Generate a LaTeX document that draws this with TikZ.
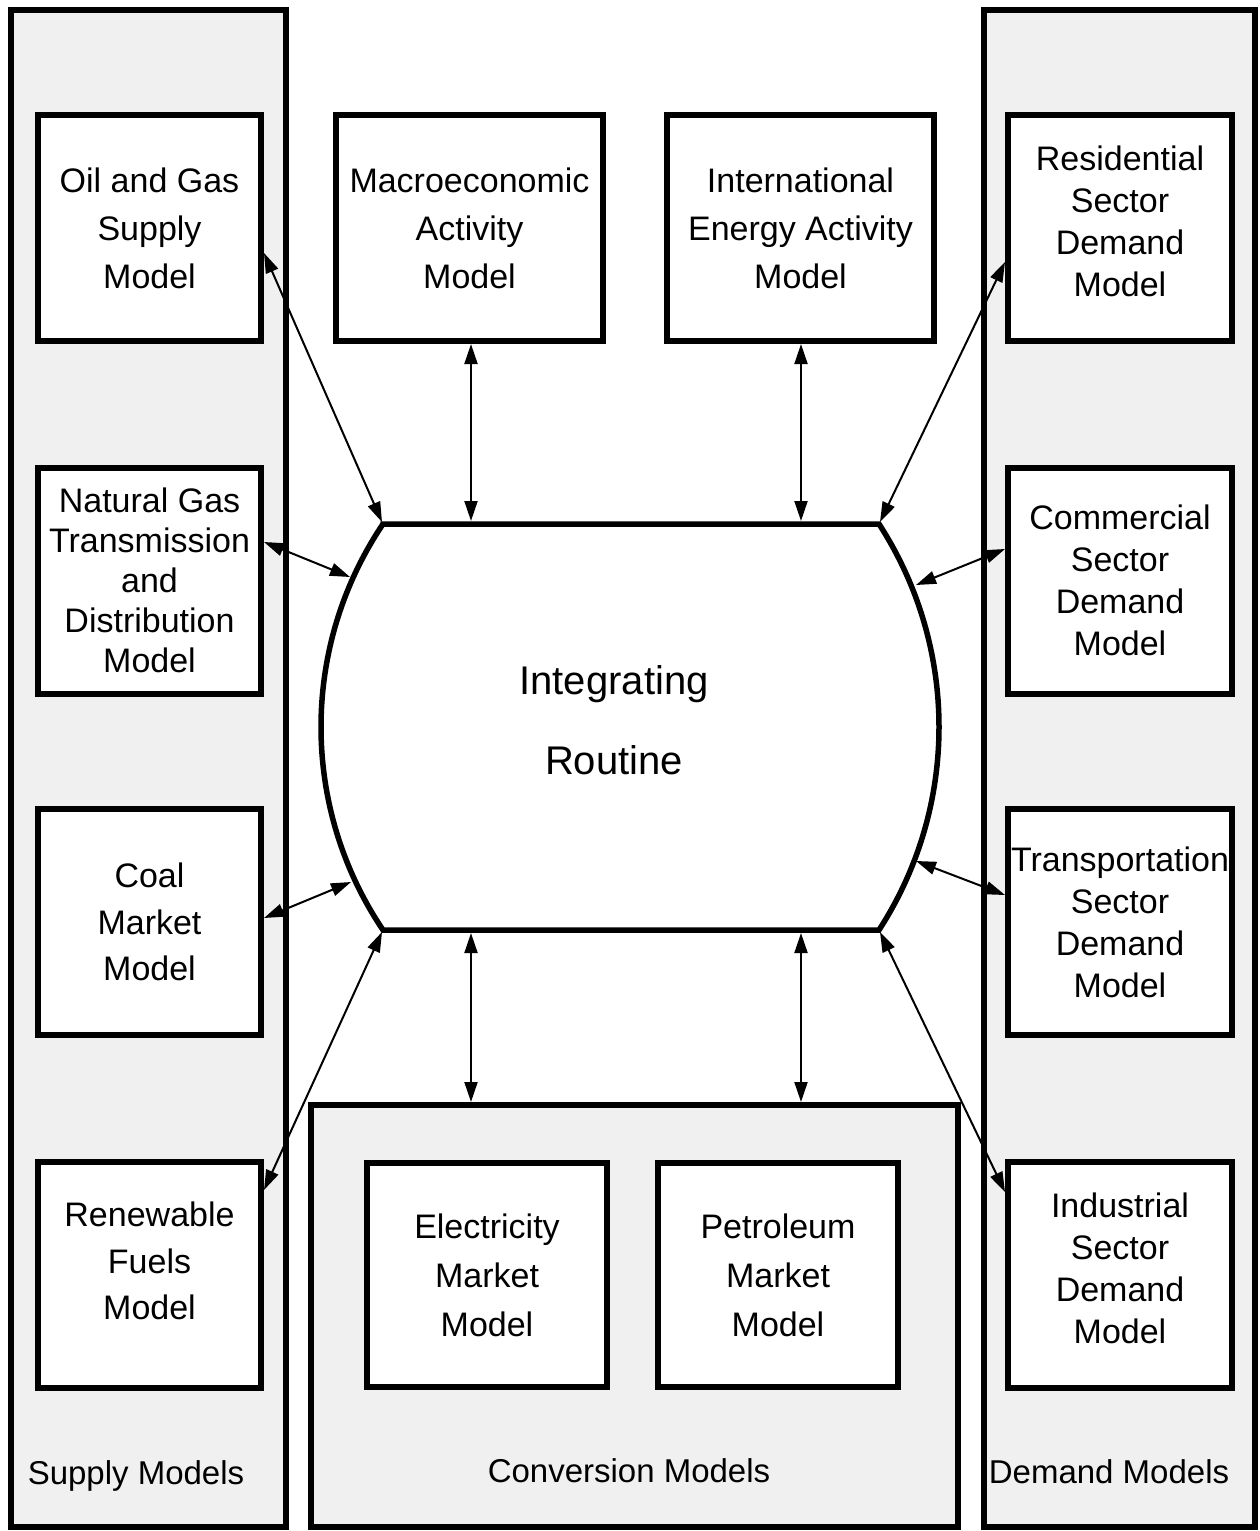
\documentclass[tikz,border=0pt]{standalone}
\usepackage{fontspec}
\setmainfont{Liberation Sans}
\usetikzlibrary{arrows.meta,calc}
\definecolor{panelgray}{HTML}{F0F0F0}
\begin{document}
\begin{tikzpicture}[x=1pt,y=1pt,
  panel/.style={draw, line width=6pt, fill=panelgray, inner sep=0pt, outer sep=3pt},
  mbox/.style={draw, line width=6pt, fill=white, inner sep=0pt, outer sep=3pt, align=center},
  lcol/.style={minimum width=223pt, minimum height=226pt},
  rcol/.style={minimum width=224pt, minimum height=226pt},
  tcol/.style={minimum width=267pt, minimum height=226pt},
  ccol/.style={minimum width=240pt, minimum height=224pt},
  three/.style={font=\fontsize{34}{48}\selectfont},
  four/.style={font=\fontsize{34}{42}\selectfont},
  five/.style={font=\fontsize{34}{40}\selectfont},
  lbl/.style={font=\fontsize{33}{40}\selectfont},
  big/.style={font=\fontsize{40}{80}\selectfont, align=center},
  link/.style={line width=2pt, {Triangle[length=20pt,width=13pt]}-{Triangle[length=20pt,width=13pt]}},
  routine/.style={line width=5.5pt, fill=white}]
\useasboundingbox (0,0) rectangle (1260,-1531);

% panels
\node[panel, minimum width=275pt, minimum height=1517pt] (supplyP) at (148.5,-768.5) {};
\node[panel, minimum width=271.5pt, minimum height=1517pt] (demandP) at (1119.25,-768.5) {};
\node[panel, minimum width=647pt, minimum height=422pt] (convP) at (634.5,-1316) {};

\node[lbl] (supplyL) at (136,-1476) {Supply Models};
\node[lbl] (convL) at (629,-1471) {Conversion Models};
\node[lbl] (demandL) at (1109,-1472) {Demand Models};

% left column
\node[mbox, lcol, three] (oil) at (149.5,-228) {Oil and Gas\\Supply\\Model};
\node[mbox, lcol, five] (natgas) at (149.5,-580.5) {Natural Gas\\Transmission\\and\\Distribution\\Model};
\node[mbox, lcol, font=\fontsize{34}{46.5}\selectfont] (coal) at (149.5,-922) {Coal\\Market\\Model};
\node[mbox, lcol, font=\fontsize{34}{46.5}\selectfont, text depth=28pt] (renew) at (149.5,-1275) {Renewable\\Fuels\\Model};

% top middle
\node[mbox, tcol, three] (macro) at (469.5,-228) {Macroeconomic\\Activity\\Model};
\node[mbox, tcol, three] (intl) at (800.5,-228) {International\\Energy Activity\\Model};

% right column
\node[mbox, rcol, four, text depth=14pt] (resid) at (1120,-228) {Residential\\Sector\\Demand\\Model};
\node[mbox, rcol, four] (comm) at (1120,-580.5) {Commercial\\Sector\\Demand\\Model};
\node[mbox, rcol, four] (trans) at (1120,-922) {Transportation\\Sector\\Demand\\Model};
\node[mbox, rcol, four, text depth=14pt] (indus) at (1120,-1275) {Industrial\\Sector\\Demand\\Model};

% conversion
\node[mbox, ccol, font=\fontsize{34}{49}\selectfont] (elec) at (487,-1275) {Electricity\\Market\\Model};
\node[mbox, ccol, font=\fontsize{34}{49}\selectfont] (petro) at (778,-1275) {Petroleum\\Market\\Model};

% integrating routine
\draw[routine] (383,-524) -- ++(496,0)
  arc[start angle=32.933, end angle=-32.933, radius=373.4pt]
  -- ++(-496,0)
  arc[start angle=213.97, end angle=146.03, radius=363.3pt] -- cycle;
\node[big] (ir) at (614,-720) {Integrating\\Routine};

% connection points on the routine
\coordinate (irTL) at (382,-522);
\coordinate (irTR) at (880,-522);
\coordinate (irBL) at (382,-932);
\coordinate (irBR) at (880,-932);
\coordinate (irT1) at (471,-521);
\coordinate (irT2) at (801,-521);
\coordinate (irB1) at (471,-933);
\coordinate (irB2) at (801,-933);
\coordinate (irL1) at (350,-577);
\coordinate (irL2) at (351,-882);
\coordinate (irR1) at (916,-585);
\coordinate (irR2) at (916,-861);

% connectors
\draw[link] ([yshift=-25pt]oil.east) -- (irTL);
\draw[link] (irT1 |- macro.south) -- (irT1);
\draw[link] (irT2 |- intl.south) -- (irT2);
\draw[link] ([yshift=-34pt]resid.west) -- (irTR);
\draw[link] ([yshift=38.5pt]natgas.east) -- (irL1);
\draw[link] ([yshift=31.5pt]comm.west) -- (irR1);
\draw[link] ([yshift=4pt]coal.east) -- (irL2);
\draw[link] ([yshift=27pt]trans.west) -- (irR2);
\draw[link] ([yshift=85pt]renew.east) -- (irBL);
\draw[link] (irB1) -- (irB1 |- convP.north);
\draw[link] (irB2) -- (irB2 |- convP.north);
\draw[link] ([yshift=83pt]indus.west) -- (irBR);
\end{tikzpicture}
\end{document}
